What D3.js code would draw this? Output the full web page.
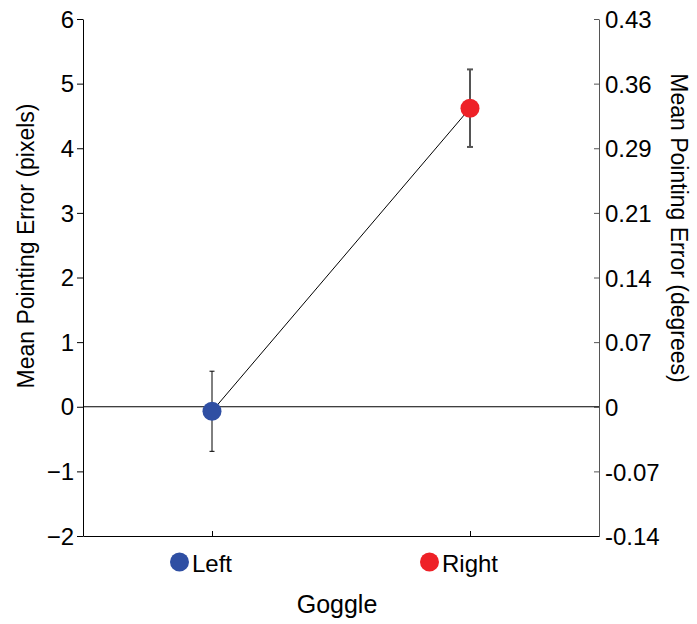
<!DOCTYPE html>
<html>
<head>
<meta charset="utf-8">
<script src="https://cdn.jsdelivr.net/npm/d3@7"></script>
<style>
  body { margin: 0; background: #fff; }
  svg text { font-family: "Liberation Sans", Arial, Helvetica, sans-serif; }
</style>
</head>
<body>
<svg id="chart" width="697" height="624"></svg>
<script>
// Goggle conditions and their mean pointing error (pixels) with error bars
const categories = ["Left", "Right"];
const means = [-0.07, 4.62];
const errors = [0.62, 0.6];
const colors = ["#2f4fa3", "#ee2127"];

// Left axis ticks (pixels) and matching right axis labels (degrees)
const pixelTicks = [-2, -1, 0, 1, 2, 3, 4, 5, 6];
const degreeLabels = ["-0.14", "-0.07", "0", "0.07", "0.14", "0.21", "0.29", "0.36", "0.43"];

const svg = d3.select("#chart");
const plotL = 83, plotR = 599, plotT = 19, plotB = 536;
const tickFont = 24, titleFont = 23;

const y = d3.scaleLinear().domain([-2, 6]).range([plotB, plotT]);
const x = d3.scalePoint().domain(categories).range([plotL, plotR]).padding(0.5);

// Left axis
const yAxisL = svg.append("g").attr("transform", `translate(${plotL},0)`)
  .call(d3.axisLeft(y).tickValues(pixelTicks).tickSize(6).tickSizeOuter(0)
    .tickFormat(d => d < 0 ? "\u2212" + Math.abs(d) : String(d)));
yAxisL.select(".domain").attr("stroke", "#000");
yAxisL.selectAll("line").attr("stroke", "#000");
yAxisL.selectAll("text").attr("font-size", tickFont).attr("fill", "#000").attr("x", -9).attr("dy", "0.34em");

// Right axis (ticks point inward)
const yAxisR = svg.append("g").attr("transform", `translate(${plotR},0)`)
  .call(d3.axisRight(y).tickValues(pixelTicks).tickSize(0).tickSizeOuter(0)
    .tickFormat((d, i) => degreeLabels[i]));
yAxisR.select(".domain").attr("stroke", "#555");
yAxisR.selectAll(".tick").append("line").attr("x1", -5).attr("x2", 0).attr("stroke", "#555");
yAxisR.selectAll("text").attr("font-size", tickFont).attr("fill", "#000").attr("x", 6).attr("dy", "0.36em");

// Bottom axis (ticks point inward)
const xAxis = svg.append("g").attr("transform", `translate(0,${plotB})`)
  .call(d3.axisBottom(x).tickSize(-5).tickSizeOuter(0).tickFormat(""));
xAxis.select(".domain").attr("stroke", "#000");
xAxis.selectAll("line").attr("stroke", "#000");

// Zero reference line
svg.append("line")
  .attr("x1", plotL).attr("x2", plotR)
  .attr("y1", y(0)).attr("y2", y(0))
  .attr("stroke", "#000").attr("stroke-width", 1);

// Category labels: coloured dot followed by the name, centred a little left of the tick
const labels = svg.append("g");
categories.forEach((c, i) => {
  const g = labels.append("g");
  const t = g.append("text")
    .attr("y", 572)
    .attr("font-size", 24).attr("fill", "#000")
    .text(c);
  const w = t.node().getComputedTextLength();
  const total = 19 + 3 + w;
  const start = x(c) - 11 - total / 2;
  g.append("circle")
    .attr("cx", start + 9.5).attr("cy", 562).attr("r", 9.5)
    .attr("fill", colors[i]);
  t.attr("x", start + 22);
});

// Axis titles
svg.append("text")
  .attr("transform", `translate(34,246) rotate(-90)`)
  .attr("text-anchor", "middle").attr("font-size", titleFont).attr("fill", "#000")
  .text("Mean Pointing Error (pixels)");
svg.append("text")
  .attr("transform", `translate(671,228) rotate(90)`)
  .attr("text-anchor", "middle").attr("font-size", titleFont).attr("fill", "#000")
  .text("Mean Pointing Error (degrees)");
svg.append("text")
  .attr("x", 337).attr("y", 613)
  .attr("text-anchor", "middle").attr("font-size", 25).attr("fill", "#000")
  .text("Goggle");

// Connecting line between means
const line = d3.line().x((d, i) => x(categories[i])).y(d => y(d));
svg.append("path").datum(means)
  .attr("d", line).attr("fill", "none").attr("stroke", "#000").attr("stroke-width", 1);

// Error bars
const eb = svg.append("g");
means.forEach((m, i) => {
  const cx = x(categories[i]);
  const col = i === 0 ? "#000" : "#555";
  const w = i === 0 ? 1 : 2;
  const half = i === 0 ? 2.5 : 3;
  eb.append("line").attr("x1", cx).attr("x2", cx)
    .attr("y1", y(m - errors[i])).attr("y2", y(m + errors[i]))
    .attr("stroke", col).attr("stroke-width", w);
  [m - errors[i], m + errors[i]].forEach(v => {
    eb.append("line").attr("x1", cx - half).attr("x2", cx + half)
      .attr("y1", y(v)).attr("y2", y(v))
      .attr("stroke", col).attr("stroke-width", w);
  });
});

// Mean markers
svg.append("g").selectAll("circle").data(means).join("circle")
  .attr("cx", (d, i) => x(categories[i]))
  .attr("cy", d => y(d))
  .attr("r", 9.5)
  .attr("fill", (d, i) => colors[i]);
</script>
</body>
</html>
